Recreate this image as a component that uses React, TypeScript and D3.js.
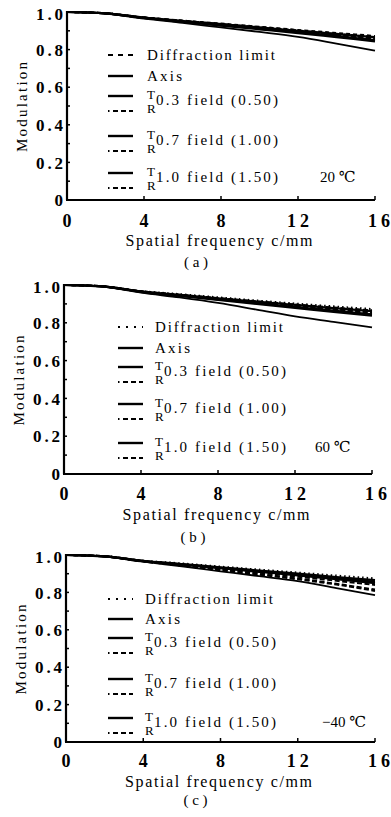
import React from "react";
import * as d3 from "d3";

// ---------- data ----------
const freq = [0, 2, 4, 6, 8, 10, 12, 14, 16];
const xTicks = [0, 4, 8, 12, 16];
const yTicks = [0, 0.2, 0.4, 0.6, 0.8, 1.0];
const yTickLabels = ["0", "0.2", "0.4", "0.6", "0.8", "1.0"];
const yMinorTicks = [0.1, 0.2, 0.3, 0.4, 0.5, 0.6, 0.7, 0.8, 0.9];

const legendLabels = ["Diffraction limit", "Axis", "0.3 field (0.50)", "0.7 field (1.00)", "1.0 field (1.50)"];
const panelCaptions = ["( a )", "( b )", "( c )"];
const panelTemps = ["20 ℃", "60 ℃", "−40 ℃"];

// panel (a) 20 °C
const diffA = [1.0, 0.993, 0.972, 0.955, 0.939, 0.922, 0.905, 0.889, 0.873];
const axisA = [1.0, 0.992, 0.965, 0.942, 0.918, 0.894, 0.868, 0.832, 0.794];
const t03A = [1.0, 0.993, 0.970, 0.952, 0.935, 0.918, 0.900, 0.882, 0.866];
const r03A = [1.0, 0.993, 0.969, 0.950, 0.932, 0.914, 0.895, 0.876, 0.856];
const t07A = [1.0, 0.993, 0.969, 0.950, 0.930, 0.912, 0.893, 0.872, 0.851];
const r07A = [1.0, 0.993, 0.971, 0.953, 0.936, 0.919, 0.902, 0.884, 0.867];
const t10A = [1.0, 0.993, 0.968, 0.948, 0.928, 0.908, 0.888, 0.866, 0.844];
const r10A = [1.0, 0.993, 0.970, 0.952, 0.934, 0.916, 0.898, 0.878, 0.860];

// panel (b) 60 °C
const diffB = [1.0, 0.993, 0.968, 0.952, 0.935, 0.918, 0.902, 0.887, 0.873];
const axisB = [1.0, 0.991, 0.960, 0.934, 0.905, 0.870, 0.834, 0.805, 0.776];
const t03B = [1.0, 0.993, 0.966, 0.948, 0.930, 0.912, 0.895, 0.878, 0.862];
const r03B = [1.0, 0.993, 0.965, 0.946, 0.926, 0.907, 0.889, 0.870, 0.852];
const t07B = [1.0, 0.993, 0.964, 0.944, 0.924, 0.904, 0.884, 0.864, 0.845];
const r07B = [1.0, 0.993, 0.967, 0.949, 0.931, 0.914, 0.897, 0.881, 0.866];
const t10B = [1.0, 0.993, 0.963, 0.942, 0.921, 0.900, 0.879, 0.858, 0.838];
const r10B = [1.0, 0.993, 0.966, 0.947, 0.928, 0.910, 0.892, 0.874, 0.856];

// panel (c) -40 °C
const diffC = [1.0, 0.993, 0.970, 0.955, 0.938, 0.922, 0.906, 0.890, 0.875];
const axisC = [1.0, 0.991, 0.964, 0.939, 0.913, 0.887, 0.860, 0.823, 0.786];
const t03C = [1.0, 0.993, 0.969, 0.952, 0.934, 0.917, 0.900, 0.882, 0.866];
const r03C = [1.0, 0.993, 0.966, 0.944, 0.921, 0.898, 0.874, 0.846, 0.815];
const t07C = [1.0, 0.993, 0.968, 0.950, 0.931, 0.913, 0.895, 0.876, 0.857];
const r07C = [1.0, 0.993, 0.966, 0.943, 0.919, 0.895, 0.870, 0.842, 0.808];
const t10C = [1.0, 0.993, 0.968, 0.949, 0.929, 0.910, 0.891, 0.871, 0.850];
const r10C = [1.0, 0.993, 0.967, 0.947, 0.926, 0.905, 0.884, 0.862, 0.840];

const panelSeries = [
  [diffA, axisA, t03A, r03A, t07A, r07A, t10A, r10A],
  [diffB, axisB, t03B, r03B, t07B, r07B, t10B, r10B],
  [diffC, axisC, t03C, r03C, t07C, r07C, t10C, r10C],
];

// ---------- layout ----------
const FONT = "'Liberation Serif', 'DejaVu Serif', serif";
const panels = [
  { x0: 67, top: 12, w: 308, h: 188, legX: 41, textX: 80, rows: [43, 64, 88, 128, 165], tempX: 253, tickDy: 27, titleDy: 46, capDy: 67 },
  { x0: 64, top: 285, w: 308, h: 189, legX: 54, textX: 91, rows: [42, 63, 86, 123, 162], tempX: 251, tickDy: 26, titleDy: 46, capDy: 68 },
  { x0: 66, top: 555, w: 309, h: 187, legX: 42, textX: 79, rows: [44, 64, 87, 128, 167], tempX: 256, tickDy: 25, titleDy: 45, capDy: 63 },
];

function seriesStyle(i: number, p: number) {
  if (i === 0) return p === 0 ? { w: 1.8, dash: "4,3" } : { w: 2, dash: "1.5,3" };
  if (i === 1) return { w: 1.8, dash: "" };
  if (i % 2 === 0) return { w: 2.2, dash: "" };
  return { w: 2, dash: "5,2.5" };
}

function Panel({ p }: { p: number }) {
  const c = panels[p];
  const x = d3.scaleLinear().domain([0, 16]).range([0, c.w]);
  const y = d3.scaleLinear().domain([0, 1]).range([c.h, 0]);
  const line = d3
    .line<number>()
    .x((_, i) => x(freq[i]))
    .y((v) => y(v))
    .curve(d3.curveMonotoneX);
  const series = panelSeries[p];
  const L = 25;
  const rowY = c.rows;
  const diffDash = p === 0 ? "5,5" : "2,6";
  const rDash = "1.5,3.5,5,3,5,3,5";
  const fieldX = c.textX + 9;
  return (
    <g transform={`translate(${c.x0},${c.top})`} fontFamily={FONT} fill="#000">
      {/* curves */}
      {series.map((s, i) => {
        const st = seriesStyle(i, p);
        return (
          <path key={i} d={line(s) || ""} fill="none" stroke="#000" strokeWidth={st.w} strokeDasharray={st.dash || undefined} />
        );
      })}
      {/* axes */}
      <line x1={0} x2={0} y1={y(1) - 1} y2={c.h} stroke="#000" strokeWidth={2.2} />
      <line x1={-1} x2={c.w} y1={c.h} y2={c.h} stroke="#000" strokeWidth={2.2} />
      {yMinorTicks.map((t) => (
        <line key={t} x1={0} x2={3} y1={y(t)} y2={y(t)} stroke="#000" strokeWidth={1.5} />
      ))}
      {xTicks.slice(1).map((t) => (
        <line key={t} x1={x(t)} x2={x(t)} y1={c.h} y2={c.h - 4} stroke="#000" strokeWidth={1.5} />
      ))}
      {/* y tick labels */}
      {yTicks.map((t, i) => (
        <text key={t} x={-4} y={y(t) + (t === 1 ? 2 : 0)} dy="0.36em" textAnchor="end" fontSize={17} fontWeight="bold"
          {...(yTickLabels[i].length > 1 ? { textLength: 27, lengthAdjust: "spacing" } : {})}>
          {yTickLabels[i]}
        </text>
      ))}
      {/* x tick labels */}
      {xTicks.map((t) => (
        <text key={t} x={x(t) + (t === 16 ? 4 : 0)} y={c.h + c.tickDy} textAnchor="middle" fontSize={18} fontWeight="bold"
          {...(String(t).length > 1 ? { textLength: 22, lengthAdjust: "spacing" } : {})}>
          {t}
        </text>
      ))}
      {/* axis titles */}
      <text x={c.w / 2 - 2} y={c.h + c.titleDy} textAnchor="middle" fontSize={16} textLength={187} lengthAdjust="spacing">
        Spatial frequency c/mm
      </text>
      <text transform={`translate(-45,${c.h / 2 + 1}) rotate(-90)`} textAnchor="middle" dy="0.35em" fontSize={15} textLength={90} lengthAdjust="spacing">
        Modulation
      </text>
      <text x={c.w / 2 - 25} y={c.h + c.capDy} textAnchor="middle" fontSize={15}>
        {panelCaptions[p]}
      </text>
      {/* legend */}
      <line x1={c.legX} x2={c.legX + L} y1={rowY[0]} y2={rowY[0]} stroke="#000" strokeWidth={2} strokeDasharray={diffDash} />
      <text x={c.textX} y={rowY[0]} dy="0.35em" fontSize={15} textLength={128} lengthAdjust="spacing">{legendLabels[0]}</text>
      <line x1={c.legX} x2={c.legX + L} y1={rowY[1]} y2={rowY[1]} stroke="#000" strokeWidth={2.4} />
      <text x={c.textX} y={rowY[1]} dy="0.35em" fontSize={15} textLength={35} lengthAdjust="spacing">{legendLabels[1]}</text>
      {[2, 3, 4].map((k) => (
        <g key={k}>
          <line x1={c.legX} x2={c.legX + L} y1={rowY[k] - 4} y2={rowY[k] - 4} stroke="#000" strokeWidth={2.4} />
          <line x1={c.legX} x2={c.legX + L} y1={rowY[k] + 11} y2={rowY[k] + 11} stroke="#000" strokeWidth={2} strokeDasharray={rDash} />
          <text x={c.textX} y={rowY[k] - 6} dy="0.35em" fontSize={13}>T</text>
          <text x={c.textX} y={rowY[k] + 8} dy="0.35em" fontSize={13}>R</text>
          <text x={fieldX} y={rowY[k]} dy="0.35em" fontSize={15} textLength={122} lengthAdjust="spacing">{legendLabels[k]}</text>
        </g>
      ))}
      <text x={c.tempX} y={rowY[4]} dy="0.35em" fontSize={15}>{panelTemps[p]}</text>
    </g>
  );
}

export default function App() {
  return (
    <svg width={391} height={817} style={{ position: "absolute", left: 0, top: 0, background: "#fff" }}>
      <rect width={391} height={817} fill="#fff" />
      {[0, 1, 2].map((p) => (
        <Panel key={p} p={p} />
      ))}
    </svg>
  );
}
